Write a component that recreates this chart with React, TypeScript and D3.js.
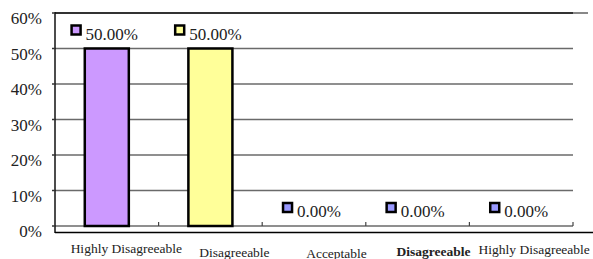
import React, { useEffect, useRef } from "react";
import * as d3 from "d3";

const categories = ["Highly Disagreeable", "Disagreeable", "Acceptable", "Disagreeable", "Highly Disagreeable"];
const values = [0.5, 0.5, 0, 0, 0];
const barColors = ["#CC99FF", "#FFFF99", "#9999FF", "#9999FF", "#9999FF"];
const yTicks = [0, 0.1, 0.2, 0.3, 0.4, 0.5, 0.6];
const boldLabel = [false, false, false, true, false];
// layout offsets for category labels (relative to category centre / baseline)
const labelDx = [19.5, 24, 22.5, 16, 13];
const labelDy = [27, 31, 32, 30, 28];

const W = 593, H = 259;
const left = 55, right = 573, top = 13, bottom = 226;
const FONT = "'Liberation Serif', 'Times New Roman', serif";

export default function App() {
  const ref = useRef<SVGSVGElement>(null);
  useEffect(() => {
    const svg = d3.select(ref.current);
    svg.selectAll("*").remove();
    const idx = categories.map((_, i) => i);
    const x = d3.scaleBand<number>().domain(idx).range([left, right]).padding(0);
    const y = d3.scaleLinear().domain([0, 0.6]).range([bottom, top]);
    const barW = x.bandwidth() * 0.425;

    // gridlines
    svg.append("g").selectAll("line").data(yTicks.filter(t => t < 0.6)).join("line")
      .attr("x1", left).attr("x2", right)
      .attr("y1", d => y(d)).attr("y2", d => y(d))
      .attr("stroke", "#6a6a6a").attr("stroke-width", 1.5);
    // top frame line
    svg.append("line").attr("x1", left).attr("x2", right).attr("y1", y(0.6)).attr("y2", y(0.6))
      .attr("stroke", "#333").attr("stroke-width", 2);
    svg.append("line").attr("x1", right).attr("x2", 588).attr("y1", y(0.6)).attr("y2", y(0.6))
      .attr("stroke", "#888").attr("stroke-width", 2);
    // y axis line
    svg.append("line").attr("x1", left).attr("x2", left).attr("y1", y(0.6) - 1).attr("y2", 233)
      .attr("stroke", "#111").attr("stroke-width", 1.5);
    // y ticks
    svg.append("g").selectAll("line").data(yTicks).join("line")
      .attr("x1", left - 3).attr("x2", left)
      .attr("y1", d => y(d)).attr("y2", d => y(d))
      .attr("stroke", "#333").attr("stroke-width", 1.5);
    // y labels
    svg.append("g").selectAll("text").data(yTicks).join("text")
      .attr("x", 42).attr("y", d => y(d) + 11)
      .attr("text-anchor", "end")
      .attr("font-family", FONT).attr("font-size", 17).attr("fill", "#222")
      .text(d => `${Math.round(d * 100)}%`);
    // category boundary ticks
    svg.append("g").selectAll("line").data(idx.slice(1).concat([idx.length])).join("line")
      .attr("x1", d => left + d * x.step()).attr("x2", d => left + d * x.step())
      .attr("y1", bottom - 4).attr("y2", bottom)
      .attr("stroke", "#444").attr("stroke-width", 1.2);
    // lower black line
    svg.append("line").attr("x1", left).attr("x2", W).attr("y1", 232.5).attr("y2", 232.5)
      .attr("stroke", "#000").attr("stroke-width", 1.5);

    // bars
    svg.append("g").selectAll("rect").data(values.filter(v => v > 0).map((v, i) => ({ v, i }))).join("rect")
      .attr("x", d => (x(d.i) as number) + (x.bandwidth() - barW) / 2)
      .attr("y", d => y(d.v))
      .attr("width", barW)
      .attr("height", d => y(0) - y(d.v))
      .attr("fill", d => barColors[d.i])
      .attr("stroke", "#000").attr("stroke-width", 2.5);

    // data labels
    values.forEach((v, i) => {
      const cx = (x(i) as number) + x.bandwidth() / 2 - 2.5;
      const yt = y(v);
      const g = svg.append("g");
      const t = g.append("text")
        .attr("y", yt - 9)
        .attr("font-family", FONT).attr("font-size", 17).attr("fill", "#222")
        .text(`${(v * 100).toFixed(2)}%`);
      const tw = (t.node() as SVGTextElement).getComputedTextLength();
      const sq = 10, gap = 5;
      const gw = sq + gap + tw;
      const x0 = cx - gw / 2;
      g.append("rect").attr("x", x0 + 1).attr("y", yt - 23).attr("width", sq - 1).attr("height", sq - 1)
        .attr("fill", barColors[i]).attr("stroke", "#000").attr("stroke-width", 2.5);
      t.attr("x", x0 + sq + gap);
    });

    // category labels
    svg.append("g").selectAll("text").data(idx).join("text")
      .attr("x", d => (x(d) as number) + x.bandwidth() / 2 + labelDx[d])
      .attr("y", d => bottom + labelDy[d])
      .attr("text-anchor", "middle")
      .attr("font-family", FONT).attr("font-size", 13.5).attr("fill", "#222")
      .attr("font-weight", d => (boldLabel[d] ? "bold" : "normal"))
      .text(d => categories[d]);
  }, []);
  return (
    <svg ref={ref} width={W} height={H}
      style={{ position: "absolute", left: 0, top: 0, background: "#fff" }} />
  );
}
